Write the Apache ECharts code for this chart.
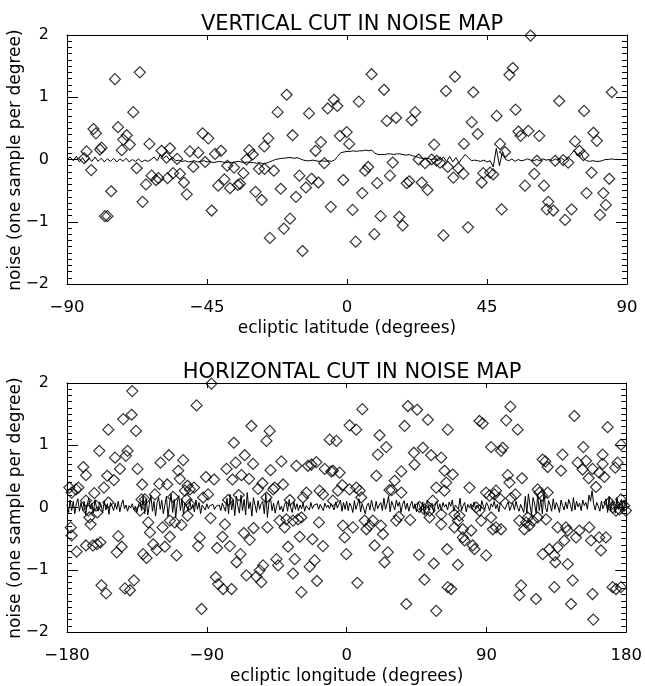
<!DOCTYPE html>
<html>
<head>
<meta charset="utf-8">
<script src="https://cdn.jsdelivr.net/npm/echarts@6/dist/echarts.min.js"></script>
<style>
html,body{margin:0;padding:0;background:#fff;}
#chart{width:645px;height:686px;}
</style>
</head>
<body>
<div id="chart"></div>
<script>
// ---------------- DATA ----------------
const topTitle = 'VERTICAL CUT IN NOISE MAP';
const bottomTitle = 'HORIZONTAL CUT IN NOISE MAP';
const topXName = 'ecliptic latitude (degrees)';
const bottomXName = 'ecliptic longitude (degrees)';
const yName = 'noise (one sample per degree)';

const topXTicks = [-90, -45, 0, 45, 90];
const bottomXTicks = [-180, -90, 0, 90, 180];
const yTicks = [-2, -1, 0, 1, 2];

// Vertical cut: mean noise curve, one value per degree of latitude from -90 to 90
const topLineStart = -90;
const topLine = [
  0, 0.04, -0.02, 0.05, -0.04, 0.03, -0.05, 0.02, -0.03, 0.04, -0.03,
  0.02, -0.04, 0.01, -0.03, 0.02, -0.04, 0.01, -0.03, 0.02, -0.04,
  0.0, -0.03, 0.01, -0.04, -0.01, -0.03, 0.0, 0.04, -0.02, 0.08,
  0.02, 0.06, -0.01, 0.03, -0.02, -0.01, -0.03, -0.02, -0.04, -0.03,
  -0.02, -0.04, -0.03, -0.02, -0.04, -0.03, -0.05, -0.04, -0.03, -0.04,
  -0.05, -0.04, -0.05, -0.04, -0.03, -0.04, -0.05, -0.04, -0.05, -0.05,
  -0.06, -0.05, -0.07, -0.06, -0.04, -0.02, 0.0, 0.01, 0.02, 0.02,
  0.03, 0.03, 0.02, 0.03, 0.01, -0.01, -0.02, -0.02, -0.01, -0.02,
  -0.03, -0.02, -0.03, -0.02, -0.03, -0.01, 0.05, 0.11, 0.12, 0.13,
  0.13, 0.14, 0.13, 0.14, 0.14, 0.15, 0.14, 0.15, 0.10, 0.08,
  0.08, 0.08, 0.09, 0.09, 0.08, 0.09, 0.09, 0.08, 0.07, 0.08,
  0.06, 0.05, 0.03, 0.02, 0.01, 0.02, 0.0, 0.01, -0.02, 0.0,
  0.04, -0.03, 0.05, -0.04, 0.03, -0.05, 0.02, 0.08, 0.03, -0.02,
  -0.01, -0.02, -0.03, -0.01, -0.04, -0.02, -0.12, 0.18, -0.1, 0.13,
  0.0, -0.02, 0.01, -0.03, 0.0, -0.02, -0.01, 0.01, -0.01, -0.02,
  0.0, -0.02, 0.01, -0.01, 0.0, -0.02, 0.01, -0.01, 0.02, -0.02,
  0.03, 0.08, 0.15, 0.06, 0.12, 0.02, -0.02, -0.03, -0.02, -0.03,
  -0.03, -0.02, 0.0, 0.0, 0.01, 0.0, 0.0, 0.0, 0.0, 0.0
];

// Vertical cut: single samples [latitude, noise]
const topDiamonds = [
  [-74.6,1.29],[-66.6,1.40],[-68.7,0.76],[-81.5,0.49],[-80.7,0.42],[-73.6,0.52],[-70.8,0.39],
  [-71.9,0.32],[-69.8,0.24],[-78.9,0.19],[-79.4,0.16],[-72.4,0.15],[-63.5,0.25],[-59.6,0.14],
  [-56.9,0.18],[-58.0,0.03],[-54.6,0.01],[-50.5,0.13],[-47.8,0.11],[-46.4,0.42],[-44.6,0.34],
  [-49.4,-0.12],[-45.6,-0.04],[-42.4,0.09],[-40.5,0.14],[-67.6,-0.14],[-83.7,0.13],[-84.5,0.02],
  [-82.2,-0.17],[-77.8,-0.91],[-77.0,-0.91],[-75.8,-0.51],[-65.7,-0.68],[-64.6,-0.40],[-62.8,-0.26],
  [-61.4,-0.33],[-60.6,-0.30],[-57.7,-0.30],[-55.9,-0.22],[-53.7,-0.23],[-52.4,-0.37],[-51.5,-0.56],
  [-43.5,-0.82],[-41.4,-0.42],[-39.4,-0.32],[-37.6,-0.46],[-36.3,-0.13],[-38.5,-0.10],[-35.1,-0.41],
  [-34.4,-0.39],[-33.3,-0.22],[-31.4,0.15],[-30.3,0.08],[-32.3,0.0],[-28.3,-0.15],[-26.6,0.21],
  [-25.3,0.34],[-29.4,-0.52],[-27.4,-0.65],[-24.8,-1.26],[-26.5,-0.15],
  [-19.4,1.04],[-22.3,0.76],[-12.2,0.74],[-6.2,0.82],[-4.2,0.96],[-3.1,0.86],[3.8,0.93],[7.9,1.37],
  [11.9,1.12],[31.8,1.10],[12.8,0.62],[15.8,0.67],[20.8,0.63],[21.9,0.76],[-17.5,0.39],[-8.4,0.28],
  [-10.1,0.14],[-2.3,0.38],[-0.1,0.44],[0.7,0.25],[28.0,0.24],[-7.3,-0.06],[-23.5,-0.18],[-15.3,-0.26],
  [-11.4,-0.31],[-9.2,-0.37],[-13.2,-0.45],[-21.3,-0.47],[-16.4,-0.60],[-1.2,-0.33],[5.8,-0.18],
  [6.8,-0.12],[14.7,-0.05],[13.8,-0.26],[9.7,-0.38],[4.9,-0.54],[19.2,-0.38],[20.0,-0.35],[24.0,-0.37],
  [25.9,-0.49],[23.0,0.0],[25.1,-0.06],[27.2,0.0],[28.8,-0.02],[29.9,-0.05],[32.4,-0.12],[-5.2,-0.76],
  [1.8,-0.81],[-18.3,-0.95],[-20.3,-1.11],[-14.3,-1.47],[2.8,-1.32],[8.8,-1.20],[10.8,-0.91],
  [16.8,-0.92],[17.9,-1.06],[31.0,-1.22],
  [59.0,1.99],[34.7,1.33],[40.6,1.08],[53.3,1.47],[52.2,1.36],[68.2,0.94],[76.2,0.78],[85.1,1.08],
  [54.2,0.80],[48.1,0.70],[40.1,0.60],[42.0,0.41],[55.1,0.45],[55.8,0.38],[58.3,0.46],[61.8,0.38],
  [79.2,0.43],[80.3,0.30],[37.6,0.25],[49.2,0.25],[73.3,0.29],[74.7,0.14],[76.0,0.07],[50.8,0.12],
  [61.0,-0.02],[66.9,-0.02],[69.5,-0.01],[71.1,-0.05],[34.2,-0.29],[35.8,-0.14],[37.4,-0.23],
  [43.8,-0.22],[43.3,-0.37],[46.0,-0.21],[47.0,-0.24],[60.2,-0.23],[57.2,-0.42],[63.3,-0.42],
  [78.6,-0.21],[84.3,-0.31],[77.0,-0.54],[82.4,-0.54],[83.2,-0.73],[81.3,-0.89],[64.7,-0.68],
  [64.2,-0.80],[66.3,-0.82],[70.1,-0.97],[72.2,-0.80],[49.7,-0.80],[38.9,-1.09]
];

// Horizontal cut: mean noise curve, one value per degree of longitude from -180 to 180
const bottomLineStart = -180;
const bottomLine = [
  0.05,
  -0.08, 0.12, -0.05, 0.1, -0.1, 0.06, 0.14, -0.06, 0.08, -0.04,
  0.1, -0.12, 0.04, 0.15, -0.02, 0.07, -0.09, 0.12, 0.0, -0.06,
  0.09, 0.03, -0.08, 0.11, -0.04, 0.06, -0.11, 0.08, 0.02, -0.05,
  0.07, -0.03, 0.1, -0.07, 0.05, 0.12, -0.02, 0.04, -0.06, 0.03,
  -0.01, 0.06, -0.04, 0.02, -0.08, 0.04, 0.09, -0.05, 0.18, -0.1,
  0.14, -0.12, 0.05, 0.2, -0.06, 0.1, -0.14, 0.08, 0.16, -0.03,
  0.12, -0.1, 0.04, 0.18, -0.15, 0.06, 0.22, -0.08, 0.13, -0.16,
  0.09, 0.19, -0.05, 0.14, -0.11, 0.07, 0.03, -0.06, 0.11, -0.02,
  0.05, -0.07, 0.12, -0.03, 0.08, -0.1, 0.04, 0.02, -0.04, 0.06,
  -0.02, 0.03, 0.0, 0.05, -0.03, 0.02, -0.01, 0.04, -0.05, 0.07,
  0.1, -0.06, 0.15, -0.1, 0.21, -0.04, 0.12, -0.13, 0.18, 0.02,
  -0.09, 0.2, -0.05, 0.13, -0.12, 0.24, -0.02, 0.09, -0.14, 0.16,
  0.04, -0.08, 0.11, -0.03, 0.06, 0.1, -0.1, 0.22, -0.16, 0.08,
  0.15, -0.05, 0.07, -0.09, 0.03, 0.11, -0.04, 0.02, -0.07, 0.05,
  0.09, -0.06, 0.13, 0.0, -0.08, 0.1, -0.03, 0.06, -0.05, 0.04,
  -0.02, 0.07, -0.06, 0.03, 0.05, -0.04, 0.08, -0.02, 0.04, 0.01,
  0.06, -0.03, 0.05, 0.02, -0.05, 0.07, 0.0, 0.04, -0.02, 0.06,
  0.03, -0.04, 0.09, -0.01, 0.05, 0.12, -0.06, 0.08, -0.03, 0.1,
  -0.05, 0.07, 0.02, -0.08, 0.11, -0.03, 0.05, 0.14, -0.07, 0.06,
  0.09, -0.1, 0.03, 0.07, -0.04, 0.12, 0.0, -0.06, 0.1, -0.02,
  0.04, 0.08, -0.05, 0.15, -0.03, 0.06, 0.18, -0.07, 0.1, 0.03,
  -0.04, 0.12, 0.02, 0.09, -0.08, 0.05, 0.11, -0.03, 0.07, -0.06,
  0.04, 0.1, -0.02, 0.06, -0.07, 0.08, 0.03, -0.05, 0.09, -0.1,
  0.05, 0.12, -0.04, 0.02, 0.07, -0.08, 0.04, 0.1, -0.03, 0.06,
  -0.05, 0.08, 0.01, 0.05, -0.04, 0.09, 0.02, 0.12, -0.06, 0.04,
  0.07, -0.03, 0.15, -0.05, 0.03, 0.08, -0.07, 0.05, 0.0, 0.06,
  -0.04, 0.09, -0.02, 0.04, 0.07, -0.06, 0.11, 0.02, -0.03, 0.08,
  0.03, -0.05, 0.06, 0.01, 0.1, -0.02, 0.05, -0.07, 0.08, 0.03,
  0.06, -0.03, 0.04, 0.09, -0.05, 0.02, 0.07, -0.04, 0.1, 0.0,
  -0.06, 0.05, 0.03, -0.08, 0.18, -0.1, 0.22, 0.04, -0.12, 0.16,
  0.06, -0.09, 0.2, -0.05, 0.13, -0.1, 0.24, 0.0, -0.07, 0.11,
  0.04, -0.06, 0.14, -0.03, 0.08, 0.02, -0.08, 0.12, 0.03, -0.04,
  0.09, -0.02, 0.13, 0.05, -0.06, 0.16, -0.04, 0.1, 0.01, 0.07,
  -0.05, 0.12, 0.03, 0.08, -0.03, 0.2, 0.1, 0.27, 0.06, -0.04,
  0.08, 0.02, -0.06, 0.1, -0.02, 0.05, 0.14, -0.08, 0.18, -0.05,
  0.11, 0.04, -0.09, 0.16, -0.03, 0.08, 0.13, -0.06, 0.1, 0.02
];

// Horizontal cut: single samples [longitude, noise]
const bottomDiamonds = [
  [-153.4,1.25],[-159.2,0.91],[-169.5,0.65],[-167.8,0.52],[-154.1,0.51],[-172.7,0.32],[-174.2,0.29],
  [-162.4,0.23],[-156.2,0.32],[-178.5,0.32],[-177.0,0.24],[-167.8,0.11],[-166.3,-0.05],[-165.6,-0.16],
  [-161.4,0.03],[-160.5,-0.08],[-164.8,-0.27],[-158.5,-0.56],[-160.7,-0.59],[-163.3,-0.61],
  [-167.8,-0.61],[-173.8,-0.71],[-177.6,-0.32],[-177.0,-0.45],[-157.8,-1.25],[-154.8,-1.38],
  [-138.0,1.87],[-96.6,1.64],[-61.3,1.31],[-143.8,1.42],[-138.4,1.49],[-135.6,1.23],[-72.6,1.04],
  [-51.6,1.07],[-49.5,1.23],[-149.1,0.80],[-141.0,0.91],[-142.1,0.83],[-145.9,0.62],[-134.6,0.62],
  [-119.8,0.72],[-114.4,0.84],[-105.2,0.76],[-108.4,0.59],[-149.8,0.44],[-131.6,0.37],[-120.6,0.38],
  [-115.5,0.37],[-107.4,0.46],[-102.4,0.35],[-100.9,0.29],[-98.2,0.32],[-104.1,0.27],[-123.4,0.21],
  [-132.0,0.13],[-129.9,0.13],[-111.7,0.17],[-103.1,0.13],[-100.9,0.05],[-90.6,0.49],[-85.3,0.45],
  [-89.2,0.21],[-92.4,0.16],[-77.3,0.62],[-71.4,0.72],[-65.6,0.84],[-60.2,0.70],[-73.5,0.45],
  [-67.7,0.52],[-62.8,0.46],[-54.2,0.39],[-57.0,0.30],[-76.3,0.12],[-69.4,0.20],[-153.4,0.08],
  [-133.0,-0.05],[-127.7,-0.24],[-126.6,-0.40],[-118.5,-0.32],[-113.8,-0.21],[-110.6,-0.24],
  [-106.3,-0.28],[-102.4,-0.13],[-113.8,-0.47],[-124.5,-0.59],[-122.3,-0.68],[-117.0,-0.63],
  [-131.0,-0.75],[-128.8,-0.81],[-109.5,-0.77],[-147.0,-0.46],[-144.8,-0.63],[-148.0,-0.72],
  [-94.5,-0.48],[-95.6,-0.62],[-87.6,-0.17],[-78.4,-0.27],[-79.9,-0.47],[-83.4,-0.65],[-75.2,-0.62],
  [-68.3,-0.75],[-70.9,-0.88],[-66.2,-0.41],[-62.4,-0.52],[-59.9,-0.33],[-51.0,-0.32],[-142.7,-1.30],
  [-139.5,-1.33],[-136.9,-1.17],[-93.4,-1.63],[-84.2,-1.12],[-82.7,-1.23],[-79.5,-1.31],[-74.1,-1.31],
  [-64.5,-1.09],[-58.1,-1.11],[-55.9,-1.01],[-53.8,-0.93],[-54.9,-1.20],[-87.0,1.99],
  [10.1,1.58],[39.4,1.63],[45.4,1.57],[52.3,1.41],[37.3,1.31],[1.9,1.32],[6.2,1.25],[21.2,1.16],
  [65.1,1.25],[-10.9,1.09],[-6.6,1.07],[25.5,0.97],[20.1,0.85],[43.3,0.88],[49.1,0.96],[54.4,0.84],
  [60.9,0.80],[43.7,0.69],[-49.0,0.60],[-42.0,0.74],[-32.4,0.67],[-24.9,0.67],[-22.7,0.69],
  [-19.5,0.73],[-14.1,0.62],[-9.9,0.58],[-8.8,0.59],[-4.5,0.56],[19.1,0.51],[35.2,0.58],[63.0,0.59],
  [-46.3,0.32],[-40.9,0.37],[-25.9,0.24],[-17.4,0.27],[-15.2,0.21],[-5.6,0.27],[-2.8,0.36],[1.9,0.29],
  [6.2,0.32],[8.4,0.27],[30.9,0.43],[27.6,0.28],[29.0,0.28],[35.2,0.24],[57.7,0.32],[63.0,0.27],
  [64.1,0.40],[-51.6,0.16],[-47.3,0.29],[-36.6,0.12],[-28.1,0.16],[-8.8,0.11],[9.4,0.16],[55.5,0.11],
  [46.9,0.01],[50.1,-0.03],[53.4,-0.05],[-43.1,-0.21],[-39.9,-0.32],[-38.8,-0.19],[-34.5,-0.21],
  [-31.3,-0.19],[-29.1,-0.16],[-17.8,-0.24],[-2.4,-0.29],[4.1,-0.32],[11.6,-0.21],[16.9,-0.21],
  [12.7,-0.35],[14.8,-0.29],[22.1,-0.29],[23.4,-0.43],[31.9,-0.21],[33.6,-0.15],[40.9,-0.20],
  [53.4,-0.16],[60.9,-0.27],[-30.2,-0.47],[-22.0,-0.51],[-15.2,-0.62],[-1.3,-0.48],[-37.7,-0.63],
  [-33.4,-0.83],[-45.2,-0.83],[-44.1,-0.93],[-23.8,-0.95],[-20.6,-0.85],[-34.5,-1.06],[-0.2,-0.75],
  [18.0,-0.61],[26.5,-0.72],[24.4,-0.88],[46.5,-0.76],[56.1,-0.90],[64.7,-0.67],[-19.1,-1.18],
  [-29.1,-1.36],[6.9,-1.21],[50.1,-1.16],[38.4,-1.55],[57.7,-1.66],[65.1,-1.28],
  [105.4,1.62],[146.6,1.47],[85.5,1.39],[87.6,1.35],[102.7,1.40],[110.1,1.25],[168.0,1.29],
  [176.6,1.01],[93.0,0.97],[99.4,0.91],[100.5,0.96],[152.4,0.97],[139.0,0.85],[164.8,0.85],
  [126.2,0.77],[127.9,0.74],[129.4,0.65],[138.0,0.59],[68.3,0.53],[148.7,0.72],[151.9,0.61],
  [154.1,0.75],[158.3,0.62],[164.8,0.70],[162.6,0.56],[165.9,0.49],[172.9,0.64],[174.4,0.72],
  [155.8,0.47],[160.5,0.33],[112.9,0.47],[103.7,0.52],[104.8,0.40],[79.1,0.32],[89.8,0.24],
  [91.9,0.19],[95.1,0.21],[98.4,0.15],[96.2,0.27],[108.6,0.21],[105.9,0.15],[123.0,0.29],[124.1,0.24],
  [129.4,0.24],[125.8,0.19],[176.6,0.13],[178.7,0.03],[175.5,-0.03],[179.8,-0.05],[169.1,0.08],
  [171.2,0.0],[173.4,-0.05],[69.4,-0.11],[72.6,-0.13],[71.6,-0.21],[69.4,-0.32],[74.8,-0.35],
  [83.4,0.0],[85.5,-0.05],[86.6,-0.21],[93.0,-0.16],[94.1,-0.35],[96.2,-0.32],[99.4,-0.35],
  [80.2,-0.37],[74.8,-0.48],[75.9,-0.53],[81.2,-0.61],[82.3,-0.67],[89.8,-0.77],[71.6,-0.92],
  [111.2,-0.21],[115.5,-0.24],[117.6,-0.29],[119.8,-0.21],[116.6,-0.16],[123.0,-0.16],[114.4,-0.35],
  [128.4,-0.19],[135.8,-0.32],[141.2,-0.32],[142.3,-0.37],[147.7,-0.48],[140.1,-0.53],[149.8,-0.37],
  [156.2,-0.32],[162.6,-0.48],[166.9,-0.48],[157.3,-0.53],[163.7,-0.69],[135.8,-0.64],[133.7,-0.77],
  [126.2,-0.75],[130.5,-0.67],[142.3,-0.91],[134.4,-0.88],[145.5,-1.17],[133.7,-1.28],[144.5,-1.55],
  [158.3,-1.39],[171.2,-1.28],[173.4,-1.31],[176.6,-1.28],[112.3,-1.25],[111.2,-1.41],[121.9,-1.47],
  [158.8,-1.80],[67.3,-1.31],[60.9,-0.11]
];

// ---------------- CHART ----------------
const FONT = 'DejaVu Sans';
const BLACK = '#000';
const dashFmt = v => (v < 0 ? '\u2212' + String(-v) : String(v));

function lineData(start, vals) { return vals.map((v, i) => [start + i, v]); }

function xAxesFor(gi, ticks, name) {
  const min = ticks[0], max = ticks[ticks.length - 1], interval = ticks[1] - ticks[0];
  const common = {
    gridIndex: gi, type: 'value', min, max, interval,
    axisLine: { show: true, onZero: false, lineStyle: { color: BLACK, width: 1 } },
    axisTick: { show: true, inside: true, length: 5, lineStyle: { color: BLACK, width: 1 } },
    splitLine: { show: false }
  };
  return [
    Object.assign({}, common, {
      position: 'bottom', name, nameLocation: 'middle', nameGap: 36,
      nameTextStyle: { fontFamily: FONT, fontSize: 17, color: BLACK },
      axisLabel: { color: BLACK, fontFamily: FONT, fontSize: 16.5, margin: 15, formatter: dashFmt }
    }),
    Object.assign({}, common, { position: 'top', axisLabel: { show: false } })
  ];
}
function yAxesFor(gi) {
  const min = yTicks[0], max = yTicks[yTicks.length - 1], interval = yTicks[1] - yTicks[0];
  const common = {
    gridIndex: gi, type: 'value', min, max, interval,
    axisLine: { show: true, onZero: false, lineStyle: { color: BLACK, width: 1 } },
    axisTick: { show: true, inside: true, length: 11, lineStyle: { color: BLACK, width: 1 } },
    minorTick: { show: true, splitNumber: 10, length: 5, lineStyle: { color: BLACK, width: 1 } },
    splitLine: { show: false }, minorSplitLine: { show: false }
  };
  return [
    Object.assign({}, common, {
      position: 'left',
      axisLabel: { color: BLACK, fontFamily: FONT, fontSize: 16, margin: 18, formatter: dashFmt,
        hideOverlap: false }
    }),
    Object.assign({}, common, { position: 'right', axisLabel: { show: false } })
  ];
}

function yNameText(centerY) {
  return {
    type: 'text', x: 16, y: centerY, rotation: Math.PI / 2, silent: true,
    style: { text: yName, fill: BLACK, font: '17px "DejaVu Sans"', align: 'center', verticalAlign: 'middle' }
  };
}

const diamondStyle = { color: 'rgba(0,0,0,0)', borderColor: BLACK, borderWidth: 1.2 };

const option = {
  animation: false,
  backgroundColor: '#fff',
  title: [
    { text: topTitle, left: 347, top: 9, textAlign: 'center',
      textStyle: { fontFamily: FONT, fontSize: 21, fontWeight: 'normal', color: BLACK } },
    { text: bottomTitle, left: 347, top: 357, textAlign: 'center',
      textStyle: { fontFamily: FONT, fontSize: 21, fontWeight: 'normal', color: BLACK } }
  ],
  graphic: [yNameText(160), yNameText(508)],
  grid: [
    { left: 67, top: 35, width: 560, height: 249, containLabel: false },
    { left: 67, top: 383, width: 560, height: 250, containLabel: false }
  ],
  xAxis: xAxesFor(0, topXTicks, topXName).concat(xAxesFor(1, bottomXTicks, bottomXName)),
  yAxis: yAxesFor(0).concat(yAxesFor(1)),
  series: [
    { type: 'scatter', xAxisIndex: 0, yAxisIndex: 0, data: topDiamonds, symbol: 'diamond',
      symbolSize: 11, itemStyle: diamondStyle, clip: true, z: 3 },
    { type: 'line', xAxisIndex: 0, yAxisIndex: 0, data: lineData(topLineStart, topLine),
      showSymbol: false, symbol: 'none', lineStyle: { color: BLACK, width: 1 }, clip: true, z: 2 },
    { type: 'scatter', xAxisIndex: 2, yAxisIndex: 2, data: bottomDiamonds, symbol: 'diamond',
      symbolSize: 11, itemStyle: diamondStyle, clip: true, z: 3 },
    { type: 'line', xAxisIndex: 2, yAxisIndex: 2, data: lineData(bottomLineStart, bottomLine),
      showSymbol: false, symbol: 'none', lineStyle: { color: BLACK, width: 1 }, clip: true, z: 2 }
  ]
};

const chart = echarts.init(document.getElementById('chart'), null, { renderer: 'canvas' });
chart.setOption(option);
</script>
</body>
</html>
